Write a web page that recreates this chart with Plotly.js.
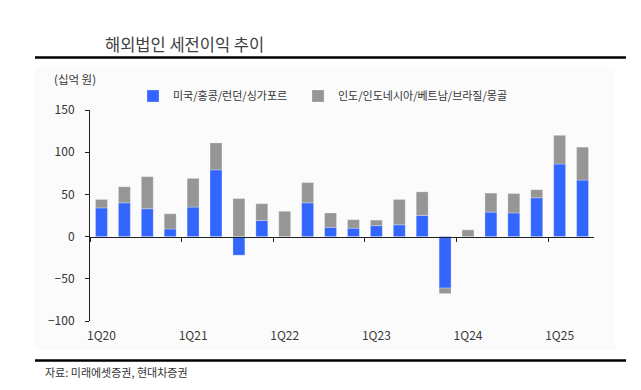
<!DOCTYPE html>
<html>
<head>
<meta charset="utf-8">
<script src="https://cdn.plot.ly/plotly-3.0.1.min.js"></script>
<style>
html,body{margin:0;padding:0;background:#fff;}
#chart{width:641px;height:390px;}
</style>
</head>
<body>
<div id="chart"></div>
<script>
const quarters = ['1Q20','2Q20','3Q20','4Q20','1Q21','2Q21','3Q21','4Q21','1Q22','2Q22','3Q22','4Q22','1Q23','2Q23','3Q23','4Q23','1Q24','2Q24','3Q24','4Q24','1Q25','2Q25'];
const usHkLondonSg = [34, 40, 33, 9, 35, 79, -22, 19, 0, 40, 11, 10, 13, 14, 25, -61, 0, 29, 28, 46, 86, 67];
const indiaEtc     = [10, 19, 38, 18, 34, 32, 45, 20, 30, 24, 17, 10, 6.5, 30, 28, -6.5, 8, 22.5, 23, 9.5, 34, 39];
const seriesNames = ['미국/홍콩/런던/싱가포르', '인도/인도네시아/베트남/브라질/몽골'];
const yTicks = [-100, -50, 0, 50, 100, 150];

const FONT = '"Noto Sans CJK KR", "Noto Sans", sans-serif';
const TXT = '#333333';

const traces = [
  {type:'bar', name: seriesNames[0], x: quarters, y: usHkLondonSg, legend: 'legend',
   marker:{color:'#3366ff', line:{color:'rgba(255,255,255,0.5)', width:0.5}}, hoverinfo:'x+y'},
  {type:'bar', name: seriesNames[1], x: quarters, y: indiaEtc, legend: 'legend2',
   marker:{color:'#969696', line:{color:'rgba(255,255,255,0.5)', width:0.5}}, hoverinfo:'x+y'}
];

// plot area: x 90..594, y 110..321
const L = 90, R = 594, T = 110, B = 321;
const px = v => (v - L) / (R - L);
const py = v => (B - v) / (B - T);

const legendBase = {orientation: 'h', xanchor: 'left', y: py(96), yanchor: 'middle',
  font: {family: FONT, size: 11, color: TXT}, bgcolor: 'rgba(0,0,0,0)', itemwidth: 30};

const layout = {
  width: 641, height: 390,
  margin: {l: L, r: 641 - R, t: T, b: 390 - B, pad: 0},
  paper_bgcolor: '#ffffff',
  plot_bgcolor: 'rgba(0,0,0,0)',
  font: {family: FONT, size: 12, color: TXT},
  barmode: 'relative',
  bargap: 0.48,
  title: {text: '해외법인 세전이익 추이', font: {family: FONT, size: 16.5, color: '#404040'},
          xref: 'container', yref: 'container', x: 105/641, xanchor: 'left', y: 1 - 45/390, yanchor: 'middle'},
  showlegend: true,
  legend: Object.assign({}, legendBase, {x: px(133)}),
  legend2: Object.assign({}, legendBase, {x: px(298)}),
  xaxis: {type: 'category', anchor: 'free', position: 0.4,
          showline: true, linecolor: '#222222', linewidth: 1.5,
          ticks: 'outside', ticklen: 4, tickcolor: '#222222', tickwidth: 1,
          tickson: 'boundaries', tickmode: 'linear', tick0: 0, dtick: 4, tickangle: 0,
          ticklabelstandoff: 87, showgrid: false, zeroline: false,
          tickfont: {family: FONT, size: 12, color: '#3a3a3a'}},
  yaxis: {range: [-100, 150], tickvals: yTicks, ticks: 'outside', ticklen: 4, tickcolor: '#222222',
          showline: true, linecolor: '#222222', linewidth: 1, showgrid: false, zeroline: false,
          ticklabelstandoff: 8, tickfont: {family: FONT, size: 12, color: TXT}},
  shapes: [
    {type: 'rect', xref: 'paper', yref: 'paper', x0: px(35), x1: px(615), y0: py(350), y1: py(67),
     fillcolor: '#fbfbfb', line: {width: 0}, layer: 'below'},
    {type: 'line', xref: 'paper', yref: 'paper', x0: px(35), x1: px(626), y0: py(57.5), y1: py(57.5),
     line: {color: '#000000', width: 2.5}},
    {type: 'line', xref: 'paper', yref: 'paper', x0: px(35), x1: px(626), y0: py(360.5), y1: py(360.5),
     line: {color: '#000000', width: 2.5}}
  ],
  annotations: [
    {text: '(십억 원)', xref: 'paper', yref: 'paper', x: px(52), y: py(79), xanchor: 'left', yanchor: 'middle',
     showarrow: false, font: {family: FONT, size: 11.5, color: TXT}},
    {text: '자료: 미래에셋증권, 현대차증권', xref: 'paper', yref: 'paper', x: px(43), y: py(372), xanchor: 'left', yanchor: 'middle',
     showarrow: false, font: {family: FONT, size: 11, color: TXT}}
  ]
};

Plotly.newPlot('chart', traces, layout, {displayModeBar: false, staticPlot: true});
</script>
</body>
</html>
